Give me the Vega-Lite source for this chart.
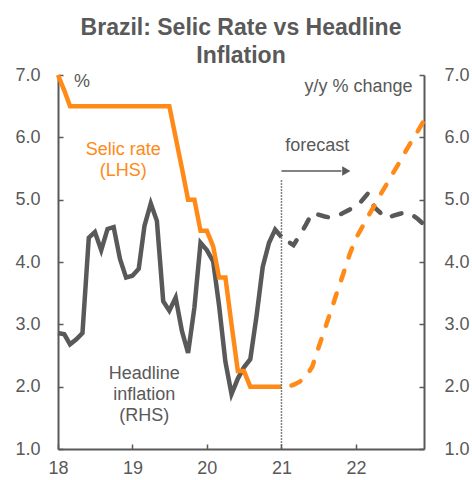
{
  "$schema": "https://vega.github.io/schema/vega-lite/v6.json",
  "width": 366,
  "height": 374,
  "autosize": {"type": "none"},
  "padding": {"left": 58, "top": 75, "right": 48, "bottom": 31},
  "background": "white",
  "config": {
    "view": {"stroke": null},
    "font": "Liberation Sans",
    "axisX": {
      "grid": false,
      "domainColor": "#595959",
      "domainWidth": 2,
      "tickColor": "#595959",
      "tickWidth": 1.5,
      "tickSize": -5,
      "labelPadding": 15,
      "labelFlush": false,
      "labelFont": "Liberation Sans",
      "labelFontSize": 18,
      "labelColor": "#595959"
    }
  },
  "title": {
    "text": ["Brazil: Selic Rate vs Headline", "Inflation"],
    "font": "Liberation Sans",
    "fontSize": 23,
    "fontWeight": "bold",
    "color": "#595959",
    "lineHeight": 28,
    "offset": -2,
    "anchor": "middle"
  },
  "datasets": {
    "actual": [
      {"date": "2018-01-01", "selic": 7.0, "cpi": 2.86},
      {"date": "2018-02-01", "selic": 6.75, "cpi": 2.84},
      {"date": "2018-03-01", "selic": 6.5, "cpi": 2.68},
      {"date": "2018-04-01", "selic": 6.5, "cpi": 2.76},
      {"date": "2018-05-01", "selic": 6.5, "cpi": 2.86},
      {"date": "2018-06-01", "selic": 6.5, "cpi": 4.39},
      {"date": "2018-07-01", "selic": 6.5, "cpi": 4.48},
      {"date": "2018-08-01", "selic": 6.5, "cpi": 4.19},
      {"date": "2018-09-01", "selic": 6.5, "cpi": 4.53},
      {"date": "2018-10-01", "selic": 6.5, "cpi": 4.56},
      {"date": "2018-11-01", "selic": 6.5, "cpi": 4.05},
      {"date": "2018-12-01", "selic": 6.5, "cpi": 3.75},
      {"date": "2019-01-01", "selic": 6.5, "cpi": 3.78},
      {"date": "2019-02-01", "selic": 6.5, "cpi": 3.89},
      {"date": "2019-03-01", "selic": 6.5, "cpi": 4.58},
      {"date": "2019-04-01", "selic": 6.5, "cpi": 4.94},
      {"date": "2019-05-01", "selic": 6.5, "cpi": 4.66},
      {"date": "2019-06-01", "selic": 6.5, "cpi": 3.37},
      {"date": "2019-07-01", "selic": 6.5, "cpi": 3.22},
      {"date": "2019-08-01", "selic": 6.0, "cpi": 3.43},
      {"date": "2019-09-01", "selic": 5.5, "cpi": 2.89},
      {"date": "2019-10-01", "selic": 5.0, "cpi": 2.54},
      {"date": "2019-11-01", "selic": 5.0, "cpi": 3.27},
      {"date": "2019-12-01", "selic": 4.5, "cpi": 4.31},
      {"date": "2020-01-01", "selic": 4.5, "cpi": 4.19},
      {"date": "2020-02-01", "selic": 4.25, "cpi": 4.01},
      {"date": "2020-03-01", "selic": 3.75, "cpi": 3.30},
      {"date": "2020-04-01", "selic": 3.75, "cpi": 2.40},
      {"date": "2020-05-01", "selic": 3.0, "cpi": 1.88},
      {"date": "2020-06-01", "selic": 2.25, "cpi": 2.13},
      {"date": "2020-07-01", "selic": 2.25, "cpi": 2.31},
      {"date": "2020-08-01", "selic": 2.0, "cpi": 2.44},
      {"date": "2020-09-01", "selic": 2.0, "cpi": 3.14},
      {"date": "2020-10-01", "selic": 2.0, "cpi": 3.92},
      {"date": "2020-11-01", "selic": 2.0, "cpi": 4.31},
      {"date": "2020-12-01", "selic": 2.0, "cpi": 4.52},
      {"date": "2021-01-01", "selic": 2.0, "cpi": 4.40}
    ],
    "forecast": [
      {"date": "2021-01-01", "selic": 2.0, "cpi": 4.40},
      {"date": "2021-02-01", "selic": 2.0, "cpi": 4.33},
      {"date": "2021-03-01", "selic": 2.03, "cpi": 4.27},
      {"date": "2021-04-01", "selic": 2.08, "cpi": 4.43},
      {"date": "2021-05-01", "selic": 2.16, "cpi": 4.60},
      {"date": "2021-06-01", "selic": 2.32, "cpi": 4.79},
      {"date": "2021-07-01", "selic": 2.62, "cpi": 4.76},
      {"date": "2021-08-01", "selic": 2.92, "cpi": 4.73},
      {"date": "2021-09-01", "selic": 3.22, "cpi": 4.71},
      {"date": "2021-10-01", "selic": 3.52, "cpi": 4.74},
      {"date": "2021-11-01", "selic": 3.82, "cpi": 4.79},
      {"date": "2021-12-01", "selic": 4.12, "cpi": 4.84},
      {"date": "2022-01-01", "selic": 4.38, "cpi": 4.88},
      {"date": "2022-02-01", "selic": 4.56, "cpi": 4.99},
      {"date": "2022-03-01", "selic": 4.73, "cpi": 5.10},
      {"date": "2022-04-01", "selic": 4.90, "cpi": 4.88},
      {"date": "2022-05-01", "selic": 5.08, "cpi": 4.79},
      {"date": "2022-06-01", "selic": 5.25, "cpi": 4.70},
      {"date": "2022-07-01", "selic": 5.42, "cpi": 4.74},
      {"date": "2022-08-01", "selic": 5.59, "cpi": 4.77},
      {"date": "2022-09-01", "selic": 5.77, "cpi": 4.80},
      {"date": "2022-10-01", "selic": 5.94, "cpi": 4.76},
      {"date": "2022-11-01", "selic": 6.10, "cpi": 4.69},
      {"date": "2022-12-01", "selic": 6.27, "cpi": 4.60}
    ]
  },
  "layer": [
    {
      "data": {"name": "actual"},
      "mark": {"type": "line", "color": "#595959", "strokeWidth": 4.5},
      "encoding": {
        "x": {
          "field": "date",
          "type": "temporal",
          "title": null,
          "scale": {
            "type": "utc",
            "nice": false,
            "domain": [
              {"year": 2018, "month": 1, "date": 1, "utc": true},
              {"year": 2022, "month": 12, "date": 1, "utc": true}
            ]
          },
          "axis": {
            "orient": "bottom",
            "values": [
              {"year": 2018, "month": 1, "date": 1, "utc": true},
              {"year": 2019, "month": 1, "date": 1, "utc": true},
              {"year": 2020, "month": 1, "date": 1, "utc": true},
              {"year": 2021, "month": 1, "date": 1, "utc": true},
              {"year": 2022, "month": 1, "date": 1, "utc": true}
            ],
            "format": "%y",
            "title": null,
            "labelFlush": false
          }
        },
        "y": {
          "field": "cpi",
          "type": "quantitative",
          "scale": {"domain": [1, 7], "nice": false, "zero": false},
          "axis": {
            "orient": "right",
            "values": [1, 2, 3, 4, 5, 6, 7],
            "format": ".1f",
            "grid": false,
            "title": null,
            "domainColor": "#595959",
            "domainWidth": 2,
            "tickColor": "#595959",
            "tickWidth": 1.5,
            "tickSize": -5,
            "labelPadding": 25,
            "labelFont": "Liberation Sans",
            "labelFontSize": 18,
            "labelColor": "#595959"
          }
        }
      }
    },
    {
      "data": {"name": "forecast"},
      "mark": {"type": "line", "color": "#595959", "strokeWidth": 4.5, "strokeDash": [10, 14], "strokeDashOffset": 13.75, "strokeCap": "round"},
      "encoding": {
        "x": {"field": "date", "type": "temporal", "title": null},
        "y": {"field": "cpi", "type": "quantitative", "scale": {"domain": [1, 7], "nice": false, "zero": false}, "axis": null}
      }
    },
    {
      "data": {"name": "actual"},
      "mark": {"type": "line", "color": "#FF8A18", "strokeWidth": 4.5},
      "encoding": {
        "x": {"field": "date", "type": "temporal", "title": null},
        "y": {
          "field": "selic",
          "type": "quantitative",
          "scale": {"domain": [1, 7], "nice": false, "zero": false},
          "axis": {
            "orient": "left",
            "values": [1, 2, 3, 4, 5, 6, 7],
            "format": ".1f",
            "grid": false,
            "title": null,
            "domainColor": "#595959",
            "domainWidth": 2,
            "tickColor": "#595959",
            "tickWidth": 1.5,
            "tickSize": -5,
            "labelPadding": 23,
            "labelFont": "Liberation Sans",
            "labelFontSize": 18,
            "labelColor": "#595959"
          }
        }
      }
    },
    {
      "data": {"name": "forecast"},
      "mark": {"type": "line", "color": "#FF8A18", "strokeWidth": 4.5, "strokeDash": [10, 14], "strokeDashOffset": 13.75, "strokeCap": "round"},
      "encoding": {
        "x": {"field": "date", "type": "temporal", "title": null},
        "y": {"field": "selic", "type": "quantitative", "scale": {"domain": [1, 7], "nice": false, "zero": false}, "axis": null}
      }
    },
    {
      "data": {"values": [{}]},
      "mark": {"type": "rule", "color": "#595959", "strokeWidth": 1.5, "strokeDash": [1.5, 1.5]},
      "encoding": {
        "x": {"datum": {"year": 2021, "month": 1, "date": 1, "utc": true}, "type": "temporal", "title": null},
        "y": {"datum": 5.31, "type": "quantitative", "scale": {"domain": [1, 7], "nice": false, "zero": false}, "axis": null},
        "y2": {"datum": 1}
      }
    },
    {
      "data": {"values": [{}]},
      "mark": {"type": "rule", "color": "#595959", "strokeWidth": 1.5},
      "encoding": {
        "x": {"datum": {"year": 2021, "month": 1, "date": 1, "utc": true}, "type": "temporal", "title": null},
        "x2": {"datum": {"year": 2021, "month": 10, "date": 22, "utc": true}},
        "y": {"datum": 5.46, "type": "quantitative", "scale": {"domain": [1, 7], "nice": false, "zero": false}, "axis": null}
      }
    },
    {
      "data": {"values": [{}]},
      "mark": {"type": "point", "shape": "triangle-right", "filled": true, "size": 90, "color": "#595959", "opacity": 1},
      "encoding": {
        "x": {"datum": {"year": 2021, "month": 11, "date": 15, "utc": true}, "type": "temporal", "title": null},
        "y": {"datum": 5.46, "type": "quantitative", "scale": {"domain": [1, 7], "nice": false, "zero": false}, "axis": null}
      }
    },
    {
      "data": {"values": [{}]},
      "mark": {"type": "text", "text": "forecast", "font": "Liberation Sans", "fontSize": 18, "color": "#595959", "align": "center", "baseline": "middle"},
      "encoding": {
        "x": {"datum": {"year": 2021, "month": 6, "date": 25, "utc": true}, "type": "temporal", "title": null},
        "y": {"datum": 5.86, "type": "quantitative", "scale": {"domain": [1, 7], "nice": false, "zero": false}, "axis": null}
      }
    },
    {
      "data": {"values": [{}]},
      "mark": {"type": "text", "text": "%", "font": "Liberation Sans", "fontSize": 18, "color": "#595959", "align": "left", "baseline": "middle"},
      "encoding": {
        "x": {"datum": {"year": 2018, "month": 3, "date": 21, "utc": true}, "type": "temporal", "title": null},
        "y": {"datum": 6.88, "type": "quantitative", "scale": {"domain": [1, 7], "nice": false, "zero": false}, "axis": null}
      }
    },
    {
      "data": {"values": [{}]},
      "mark": {"type": "text", "text": "y/y % change", "font": "Liberation Sans", "fontSize": 18, "color": "#595959", "align": "right", "baseline": "middle"},
      "encoding": {
        "x": {"datum": {"year": 2022, "month": 10, "date": 6, "utc": true}, "type": "temporal", "title": null},
        "y": {"datum": 6.8, "type": "quantitative", "scale": {"domain": [1, 7], "nice": false, "zero": false}, "axis": null}
      }
    },
    {
      "data": {"values": [{}]},
      "mark": {"type": "text", "text": "Selic rate\n(LHS)", "lineBreak": "\n", "lineHeight": 21, "font": "Liberation Sans", "fontSize": 18, "color": "#FF8A18", "align": "center", "baseline": "middle"},
      "encoding": {
        "x": {"datum": {"year": 2018, "month": 11, "date": 17, "utc": true}, "type": "temporal", "title": null},
        "y": {"datum": 5.79, "type": "quantitative", "scale": {"domain": [1, 7], "nice": false, "zero": false}, "axis": null}
      }
    },
    {
      "data": {"values": [{}]},
      "mark": {"type": "text", "text": "Headline\ninflation\n(RHS)", "lineBreak": "\n", "lineHeight": 21, "font": "Liberation Sans", "fontSize": 18, "color": "#595959", "align": "center", "baseline": "middle"},
      "encoding": {
        "x": {"datum": {"year": 2019, "month": 2, "date": 28, "utc": true}, "type": "temporal", "title": null},
        "y": {"datum": 2.2, "type": "quantitative", "scale": {"domain": [1, 7], "nice": false, "zero": false}, "axis": null}
      }
    }
  ],
  "resolve": {"scale": {"y": "independent"}}
}
